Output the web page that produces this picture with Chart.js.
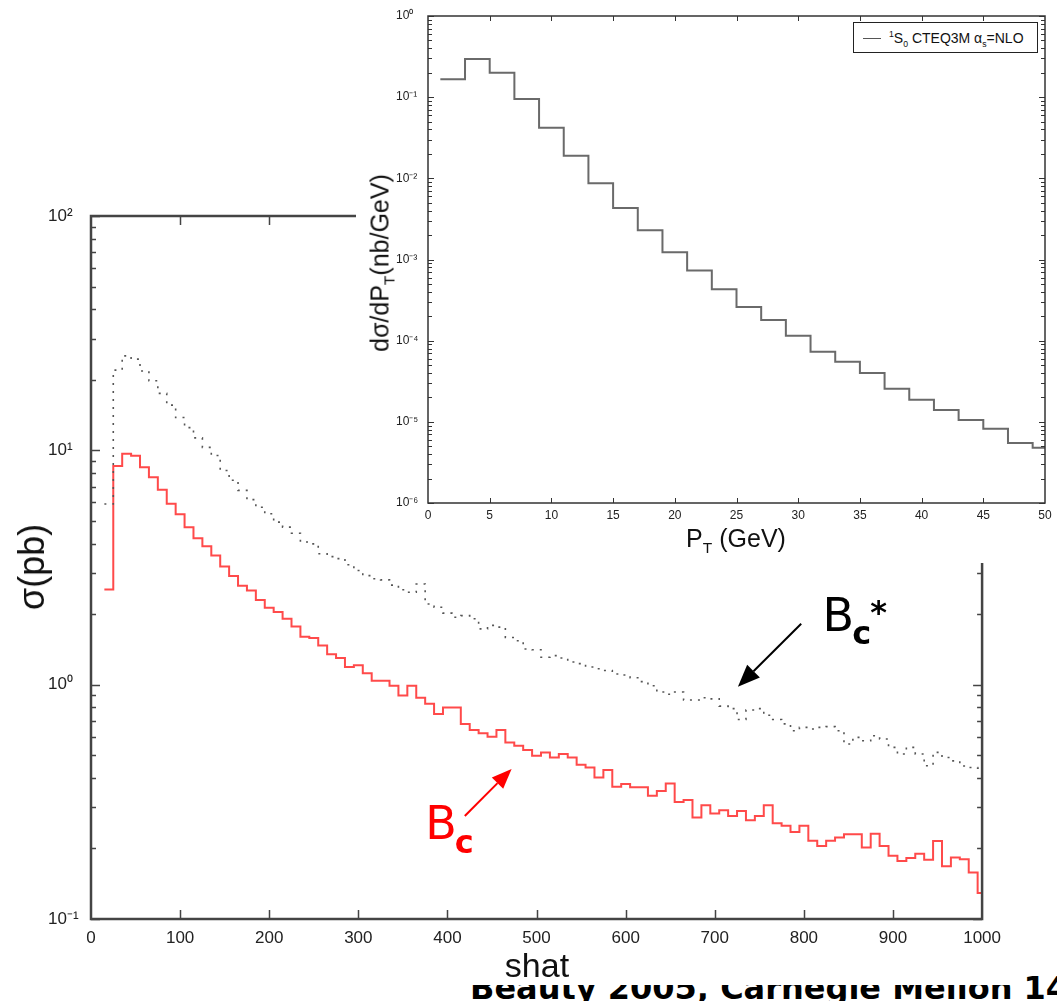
<!DOCTYPE html>
<html lang="en">
<head>
<meta charset="UTF-8">
<title>Bc production: sigma vs shat, dsigma/dPT</title>
<script src="https://cdn.jsdelivr.net/npm/chart.js"></script>
<style>
  html, body { margin: 0; padding: 0; background: #fff; }
  body { width: 1057px; height: 1001px; position: relative; overflow: hidden; font-family: "Liberation Sans", Arial, sans-serif; color: #111; }
  .abs { position: absolute; white-space: nowrap; line-height: 1; }
  #footer { left: 470px; top: 969px; font: bold 32px "DejaVu Sans", sans-serif; color: #000; z-index: 1; }
  #mainChart { position: absolute; left: 0; top: 0; z-index: 2; background: #fff; }
  #insetChart { position: absolute; left: 356px; top: 0; z-index: 4; background: #fff; }
  #shatTitle { left: 537px; top: 948px; font-size: 34px; transform: translateX(-50%); z-index: 3; }
  #sigmaTitle { left: 32px; top: 567px; font-size: 36px; transform: translate(-50%, -50%) rotate(-90deg); z-index: 3; }
  #ptTitle { left: 736px; top: 526px; font-size: 25px; transform: translateX(-50%); z-index: 5; }
  #dsTitle { left: 380px; top: 263px; font-size: 25px; transform: translate(-50%, -50%) rotate(-90deg); z-index: 5; }
  sub, sup { font-size: 62%; line-height: 0; }
  #legend { left: 853px; top: 22px; width: 183px; height: 29px; border: 1px solid #222; background: #fff; z-index: 5; font-size: 14px; }
  #legend .swatch { position: absolute; left: 9px; top: 15px; width: 18px; height: 1px; background: #555; }
  #legend .txt { position: absolute; left: 35px; top: 8px; }
</style>
</head>
<body>
<div id="footer" class="abs">Beauty 2005, Carnegie Mellon 14</div>
<canvas id="mainChart" width="1010" height="985"></canvas>
<div id="shatTitle" class="abs">shat</div>
<div id="sigmaTitle" class="abs">σ(pb)</div>
<canvas id="insetChart" width="701" height="563"></canvas>
<div id="ptTitle" class="abs">P<sub>T</sub> (GeV)</div>
<div id="dsTitle" class="abs">dσ/dP<sub>T</sub>(nb/GeV)</div>
<div id="legend" class="abs"><span class="swatch"></span><span class="txt"><sup>1</sup>S<sub>0</sub> CTEQ3M α<sub>s</sub>=NLO</span></div>

<script>
// ---- main plot: sigma(pb) vs shat, 10-wide bins (centres 20 .. 1000)
const shatBins = Array.from({ length: 99 }, (_, i) => 20 + 10 * i);
const bcStar = [
  5.9, 22.0, 25.3, 24.5, 21.8, 19.8, 17.5, 15.6, 13.8, 12.5,
  11.3, 10.3, 9.5, 8.2, 7.45, 6.75, 6.16, 5.72, 5.36, 4.94,
  4.70, 4.43, 4.06, 3.99, 3.62, 3.52, 3.45, 3.25, 3.07, 2.92,
  2.83, 2.80, 2.66, 2.54, 2.48, 2.69, 2.21, 2.14, 2.02, 1.94,
  1.97, 1.91, 1.73, 1.79, 1.76, 1.59, 1.54, 1.42, 1.41, 1.31,
  1.33, 1.30, 1.25, 1.23, 1.19, 1.17, 1.15, 1.11, 1.10, 1.07,
  1.03, 0.99, 0.93, 0.91, 0.93, 0.86, 0.86, 0.88, 0.87, 0.81,
  0.79, 0.71, 0.78, 0.79, 0.74, 0.71, 0.68, 0.636, 0.657, 0.647,
  0.657, 0.662, 0.636, 0.558, 0.596, 0.576, 0.605, 0.586, 0.54, 0.506,
  0.54, 0.506, 0.451, 0.514, 0.489, 0.473, 0.45, 0.443, 0.44
];
const bc = [
  2.55, 8.57, 9.68, 9.49, 8.46, 7.67, 6.79, 5.92, 5.34, 4.70,
  4.22, 3.90, 3.56, 3.19, 2.91, 2.64, 2.52, 2.30, 2.13, 2.04,
  1.91, 1.77, 1.60, 1.58, 1.47, 1.35, 1.30, 1.19, 1.21, 1.12,
  1.04, 1.04, 0.99, 0.90, 0.99, 0.88, 0.83, 0.75, 0.80, 0.80,
  0.68, 0.64, 0.62, 0.60, 0.64, 0.567, 0.549, 0.526, 0.497, 0.514,
  0.489, 0.506, 0.489, 0.455, 0.443, 0.402, 0.432, 0.367, 0.377, 0.365,
  0.365, 0.336, 0.352, 0.379, 0.316, 0.322, 0.271, 0.306, 0.282, 0.291,
  0.275, 0.289, 0.264, 0.275, 0.306, 0.256, 0.25, 0.235, 0.25, 0.216,
  0.205, 0.216, 0.223, 0.23, 0.23, 0.202, 0.231, 0.205, 0.186, 0.177,
  0.182, 0.19, 0.179, 0.215, 0.168, 0.183, 0.18, 0.158, 0.129
];
const mainXTicks = [0, 100, 200, 300, 400, 500, 600, 700, 800, 900, 1000];
const mainDecades = [-1, 0, 1, 2];

// annotation anchors, in data units (shat, sigma)
const bcStarLabel = [821, 1.70];
const bcStarArrow = [[797, 1.82], [726, 0.98]];
const bcLabel = [375, 0.22];
const bcArrow = [[419.5, 0.275], [472, 0.437]];

// ---- inset: dsigma/dPT (nb/GeV) vs PT, 2 GeV bins (centres 2 .. 50)
const ptBins = Array.from({ length: 25 }, (_, i) => 2 + 2 * i);
const dsigma = [
  0.166, 0.295, 0.2, 0.095, 0.042, 0.019, 0.0087, 0.0043, 0.0023, 0.00123,
  0.00073, 4.3e-4, 2.6e-4, 1.8e-4, 1.15e-4, 7.3e-5, 5.5e-5, 4.0e-5, 2.55e-5, 1.87e-5,
  1.4e-5, 1.05e-5, 8.2e-6, 5.5e-6, 4.8e-6
];
const insetXTicks = [0, 5, 10, 15, 20, 25, 30, 35, 40, 45, 50];
const insetDecades = [-6, -5, -4, -3, -2, -1, 0];

const SUP = { '-': '⁻', '0': '⁰', '1': '¹', '2': '²', '3': '³', '4': '⁴', '5': '⁵', '6': '⁶', '7': '⁷', '8': '⁸', '9': '⁹' };
function isDecade(v) {
  const l = Math.log10(v);
  return Math.abs(l - Math.round(l)) < 1e-9;
}
function powLabel(v) {
  if (!isDecade(v)) return '';
  return '10' + String(Math.round(Math.log10(v))).split('').map(c => SUP[c]).join('');
}
function logTicks(decades) {
  const out = [];
  for (let i = 0; i < decades.length - 1; i++) {
    for (let m = 1; m < 10; m++) out.push(m * Math.pow(10, decades[i]));
  }
  out.push(Math.pow(10, decades[decades.length - 1]));
  return out;
}
// histogram -> step points at left bin edges, closed at the right edge
function histPoints(centres, values, half, xmax) {
  const pts = centres.map((c, i) => ({ x: c - half, y: values[i] }));
  const last = centres.length - 1;
  pts.push({ x: Math.min(centres[last] + half, xmax), y: values[last] });
  return pts;
}

// frame + inward tick marks on all four sides
const frameTicks = {
  id: 'frameTicks',
  afterDatasetsDraw(chart, args, o) {
    const { ctx, chartArea: a, scales: { x, y } } = chart;
    ctx.save();
    ctx.strokeStyle = o.color;
    ctx.lineWidth = o.tickWidth;
    ctx.beginPath();
    x.ticks.forEach(t => {
      const px = Math.round(x.getPixelForValue(t.value)) + 0.5;
      if (px <= a.left + 2 || px >= a.right - 2) return;
      ctx.moveTo(px, a.bottom); ctx.lineTo(px, a.bottom - o.xLen);
      ctx.moveTo(px, a.top); ctx.lineTo(px, a.top + o.xLen);
    });
    y.ticks.forEach(t => {
      const py = Math.round(y.getPixelForValue(t.value)) + 0.5;
      const len = isDecade(t.value) ? o.major : o.minor;
      ctx.moveTo(a.left, py); ctx.lineTo(a.left + len, py);
      ctx.moveTo(a.right, py); ctx.lineTo(a.right - len, py);
    });
    ctx.stroke();
    ctx.lineWidth = o.width;
    ctx.strokeRect(a.left, a.top, a.right - a.left, a.bottom - a.top);
    ctx.restore();
  }
};

function drawArrow(ctx, from, to, color, head, halfW) {
  const ang = Math.atan2(to[1] - from[1], to[0] - from[0]);
  const bx = to[0] - head * Math.cos(ang), by = to[1] - head * Math.sin(ang);
  ctx.strokeStyle = color; ctx.fillStyle = color; ctx.lineWidth = 2;
  ctx.beginPath(); ctx.moveTo(from[0], from[1]); ctx.lineTo(bx, by); ctx.stroke();
  ctx.beginPath();
  ctx.moveTo(to[0], to[1]);
  ctx.lineTo(bx + halfW * Math.sin(ang), by - halfW * Math.cos(ang));
  ctx.lineTo(bx - halfW * Math.sin(ang), by + halfW * Math.cos(ang));
  ctx.closePath(); ctx.fill();
}

const annotations = {
  id: 'annotations',
  afterDatasetsDraw(chart) {
    const { ctx, scales: { x, y } } = chart;
    const px = p => [x.getPixelForValue(p[0]), y.getPixelForValue(p[1])];
    ctx.save();
    drawArrow(ctx, px(bcStarArrow[0]), px(bcStarArrow[1]), '#000', 22, 9);
    drawArrow(ctx, px(bcArrow[0]), px(bcArrow[1]), '#ff0000', 20, 8);
    ctx.textBaseline = 'alphabetic';
    ctx.textAlign = 'left';
    let [lx, ly] = px(bcStarLabel);
    ctx.fillStyle = '#000';
    ctx.font = '46px "DejaVu Sans"';
    ctx.fillText('B', lx, ly);
    let w = ctx.measureText('B').width;
    ctx.font = 'bold 32px "DejaVu Sans"';
    ctx.fillText('c', lx + w - 2, ly + 13);
    ctx.fillText('*', lx + w + 16, ly - 8);
    [lx, ly] = px(bcLabel);
    ctx.fillStyle = '#ff0000';
    ctx.font = '46px "DejaVu Sans"';
    ctx.fillText('B', lx, ly);
    w = ctx.measureText('B').width;
    ctx.font = 'bold 32px "DejaVu Sans"';
    ctx.fillText('c', lx + w - 2, ly + 14);
    ctx.restore();
  }
};

// ---------------- main chart
new Chart(document.getElementById('mainChart'), {
  type: 'line',
  data: {
    datasets: [
      {
        label: 'Bc*',
        data: histPoints(shatBins, bcStar, 5, 1000),
        stepped: 'before',
        borderColor: '#555',
        borderWidth: 1.6,
        borderDash: [2, 6],
        pointRadius: 0
      },
      {
        label: 'Bc',
        data: histPoints(shatBins, bc, 5, 1000),
        stepped: 'before',
        borderColor: '#ff4a4a',
        borderWidth: 2,
        pointRadius: 0
      }
    ]
  },
  options: {
    responsive: false,
    animation: false,
    layout: { padding: { left: 48, top: 216, right: 27, bottom: 0 } },
    plugins: {
      legend: { display: false },
      tooltip: { enabled: false },
      frameTicks: { color: '#444', width: 2.5, tickWidth: 1.5, xLen: 9, major: 9, minor: 5 }
    },
    scales: {
      x: {
        type: 'linear', min: 0, max: 1000,
        grid: { display: false, drawTicks: false },
        border: { display: false },
        afterBuildTicks: s => { s.ticks = mainXTicks.map(v => ({ value: v })); },
        afterFit: s => { s.height = 66; },
        ticks: { autoSkip: false, maxRotation: 0, padding: 9, color: '#222', font: { family: 'Liberation Sans', size: 17 }, callback: v => String(v) }
      },
      y: {
        type: 'logarithmic', min: 0.1, max: 100,
        grid: { display: false, drawTicks: false },
        border: { display: false },
        afterBuildTicks: s => { s.ticks = logTicks(mainDecades).map(v => ({ value: v })); },
        afterFit: s => { s.width = 43; },
        ticks: { autoSkip: false, crossAlign: 'far', color: '#222', font: { family: 'Liberation Sans', size: 17 }, callback: v => powLabel(v) }
      }
    }
  },
  plugins: [frameTicks, annotations]
});

// ---------------- inset chart
new Chart(document.getElementById('insetChart'), {
  type: 'line',
  data: {
    datasets: [{
      label: '1S0 CTEQ3M as=NLO',
      data: histPoints(ptBins, dsigma, 1, 50),
      stepped: 'before',
      borderColor: '#6a6a6a',
      borderWidth: 2,
      pointRadius: 0
    }]
  },
  options: {
    responsive: false,
    animation: false,
    layout: { padding: { left: 40, top: 16, right: 12, bottom: 0 } },
    plugins: {
      legend: { display: false },
      tooltip: { enabled: false },
      frameTicks: { color: '#333', width: 1.5, tickWidth: 1, xLen: 5, major: 6, minor: 4 }
    },
    scales: {
      x: {
        type: 'linear', min: 0, max: 50,
        grid: { display: false, drawTicks: false },
        border: { display: false },
        afterBuildTicks: s => { s.ticks = insetXTicks.map(v => ({ value: v })); },
        afterFit: s => { s.height = 60; },
        ticks: { autoSkip: false, maxRotation: 0, padding: 5, color: '#222', font: { family: 'Liberation Sans', size: 12 } }
      },
      y: {
        type: 'logarithmic', min: 1e-6, max: 1,
        grid: { display: false, drawTicks: false },
        border: { display: false },
        afterBuildTicks: s => { s.ticks = logTicks(insetDecades).map(v => ({ value: v })); },
        afterFit: s => { s.width = 32; },
        ticks: { autoSkip: false, crossAlign: 'far', color: '#222', font: { family: 'Liberation Sans', size: 12 }, callback: v => powLabel(v) }
      }
    }
  },
  plugins: [frameTicks]
});
</script>
</body>
</html>
